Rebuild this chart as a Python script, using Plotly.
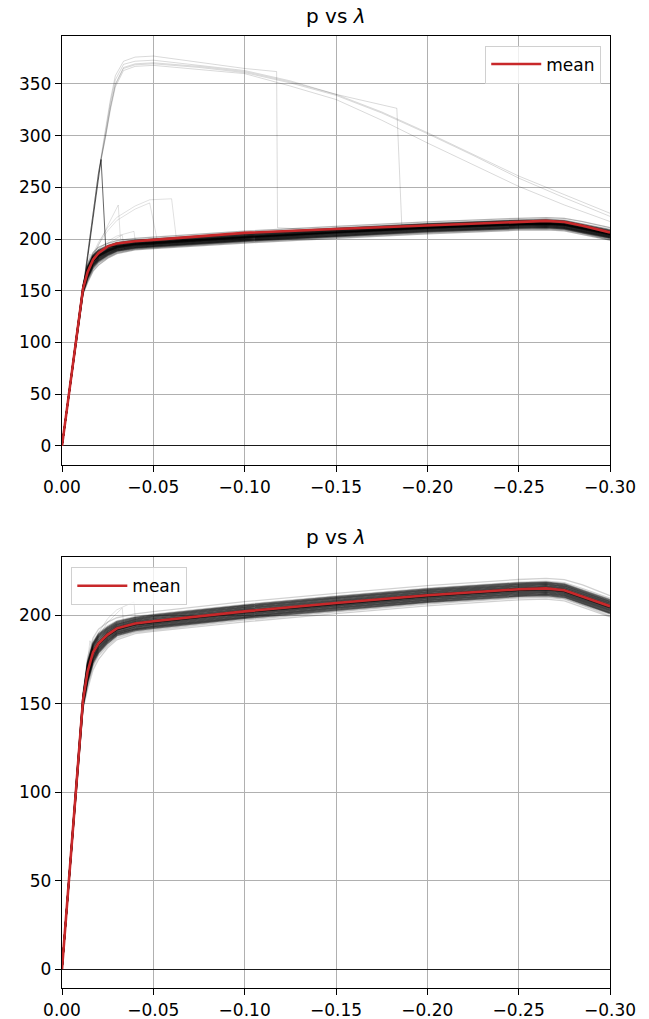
import plotly.graph_objects as go

# ---------------- data ----------------
LAM = [0, -0.004, -0.008, -0.0115, -0.014, -0.017, -0.02, -0.025, -0.03, -0.04,
       -0.05, -0.075, -0.1, -0.15, -0.2, -0.25, -0.265, -0.275, -0.285, -0.3]

MEAN_TOP = [0, 53, 106, 152, 168, 180, 186.5, 193, 195.8, 198, 199.3, 203, 206,
            209.8, 213.5, 217, 217.6, 216.6, 213, 206.5]
MEAN_BOT = [0, 53, 106, 152, 168, 179, 184, 189, 192.5, 195.2, 196.5, 199.4, 202.1,
            206.8, 211.2, 214.6, 215.1, 214.0, 210.5, 205.0]

C01 = [0, 53, 106, 147, 158, 169, 175, 181.5, 186, 189.5, 190.8, 193.6, 196.2, 200.8, 205.2, 208.6, 209.0, 208.0, 204.5, 199.0]
C02 = [0, 53, 106, 148, 161, 172, 178, 183.5, 187.8, 190.8, 192.1, 195.0, 197.7, 202.3, 206.7, 210.1, 210.6, 209.5, 206.0, 200.5]
C03 = [0, 53, 106, 149, 163, 174, 179.5, 185, 189, 191.8, 193.1, 196.0, 198.7, 203.3, 207.7, 211.1, 211.6, 210.5, 207.0, 201.5]
C04 = [0, 53, 106, 150, 164, 175.5, 181, 186.2, 190, 192.7, 194.0, 196.9, 199.6, 204.3, 208.7, 212.1, 212.6, 211.5, 208.0, 202.5]
C05 = [0, 53, 106, 150.5, 165, 176, 181.5, 186.8, 190.5, 193.2, 194.5, 197.4, 200.1, 204.8, 209.2, 212.6, 213.1, 212.0, 208.5, 203.0]
C06 = [0, 53, 106, 151, 166, 177, 182.3, 187.4, 191, 193.7, 195.0, 197.9, 200.6, 205.3, 209.7, 213.1, 213.6, 212.5, 209.0, 203.5]
C07 = [0, 53, 106, 151.5, 167, 178, 183, 188, 191.5, 194.2, 195.5, 198.4, 201.1, 205.8, 210.2, 213.6, 214.1, 213.0, 209.5, 204.0]
C08 = [0, 53, 106, 152, 167.5, 178.5, 183.5, 188.5, 192, 194.7, 196.0, 198.9, 201.6, 206.3, 210.7, 214.1, 214.6, 213.5, 210.0, 204.5]
C09 = [0, 53, 106, 152, 168, 179, 184, 189, 192.5, 195.2, 196.5, 199.4, 202.1, 206.8, 211.2, 214.6, 215.1, 214.0, 210.5, 205.0]
C10 = [0, 53, 106, 152, 168.5, 179.5, 184.5, 189.5, 193, 195.7, 197.0, 199.9, 202.6, 207.3, 211.7, 215.1, 215.6, 214.5, 211.0, 205.5]
C11 = [0, 53, 106, 152.5, 169, 180, 185, 190, 193.5, 196.2, 197.5, 200.4, 203.1, 207.8, 212.2, 215.6, 216.1, 215.0, 211.5, 206.0]
C12 = [0, 53, 106, 153, 170, 181, 186, 190.6, 194, 196.7, 198.0, 200.9, 203.6, 208.3, 212.7, 216.1, 216.6, 215.5, 212.0, 206.5]
C13 = [0, 53, 106, 153.5, 171, 182, 187, 191.2, 194.5, 197.2, 198.5, 201.4, 204.1, 208.8, 213.2, 216.6, 217.1, 216.0, 212.5, 207.0]
C14 = [0, 53, 106, 154, 172.5, 183.5, 188.5, 192.5, 195.6, 198.2, 199.5, 202.4, 205.1, 209.8, 214.2, 217.6, 218.1, 217.0, 213.5, 208.0]
C15 = [0, 53, 106, 155, 174, 185, 190, 194, 196.8, 199.2, 200.5, 203.4, 206.1, 210.8, 215.2, 218.6, 219.2, 218.3, 215.0, 209.5]
C16 = [0, 53, 106, 156, 176, 187, 192, 196, 198.5, 200.7, 202.0, 204.9, 207.6, 212.3, 216.7, 220.1, 220.7, 220.0, 217.0, 211.0]
C17 = [0, 53, 106, 147.5, 160, 171, 177, 182.5, 187, 190.3, 191.5, 194.4, 197.1, 201.8, 206.2, 209.6, 210.0, 209.0, 205.5, 199.5]
C18 = [0, 53, 106, 148.5, 162, 173, 178.7, 184.2, 188.4, 191.3, 192.6, 195.5, 198.2, 202.8, 207.2, 210.6, 211.1, 210.0, 206.5, 201.0]
C19 = [0, 53, 106, 149.5, 163.5, 174.8, 180.2, 185.6, 189.5, 192.2, 193.5, 196.4, 199.1, 203.8, 208.2, 211.6, 212.1, 211.0, 207.5, 202.0]
C20 = [0, 53, 106, 153.8, 171.8, 182.8, 187.8, 191.9, 195, 197.7, 199.0, 201.9, 204.6, 209.3, 213.7, 217.1, 217.6, 216.5, 213.0, 207.5]
C21 = [0, 53, 106, 154.5, 173.2, 184.2, 189.2, 193.2, 196.2, 198.7, 200.0, 202.9, 205.6, 210.3, 214.7, 218.1, 218.6, 217.6, 214.2, 208.7]
C22 = [0, 53, 106, 152, 168.3, 179.3, 184.3, 189.3, 192.8, 195.5, 196.8, 199.7, 202.4, 207.0, 211.5, 214.9, 215.4, 214.3, 210.8, 205.3]
C23 = [0, 53, 106, 151.8, 167.2, 178.2, 183.2, 188.2, 191.7, 194.5, 195.8, 198.7, 201.4, 206.0, 210.5, 213.9, 214.4, 213.3, 209.8, 204.3]

# outlier samples (own lambda grids)
H1_X = [0, -0.02, -0.0237, -0.0265, -0.0292, -0.0337, -0.04, -0.05, -0.075, -0.1, -0.1175, -0.118, -0.15, -0.2, -0.25, -0.265, -0.275, -0.285, -0.3]
H1_Y = [0, 264, 305, 335, 358, 372, 376, 377, 371, 365, 362, 211, 208, 212.5, 216, 216.5, 215.5, 212, 206.5]
H2_X = [0, -0.02, -0.0237, -0.0265, -0.0292, -0.0337, -0.04, -0.05, -0.075, -0.1, -0.125, -0.15, -0.1833, -0.186, -0.2, -0.25, -0.265, -0.275, -0.285, -0.3]
H2_Y = [0, 264, 302, 332, 354, 369, 372, 373, 368, 363, 353, 340, 326.5, 213.7, 214.5, 217.5, 218, 217, 213.5, 208]
H_X = [0, -0.02, -0.0237, -0.0265, -0.0292, -0.0337, -0.04, -0.05, -0.075, -0.1, -0.125, -0.15, -0.175, -0.2, -0.225, -0.25, -0.275, -0.3]
H3_Y = [0, 264, 299, 328, 350, 366, 369.5, 370.5, 367, 362, 352, 340, 323, 303, 282, 261, 243, 225]
H4_Y = [0, 264, 298, 327, 349, 365, 368.5, 369.5, 366, 361, 351, 339, 322, 302, 281, 259, 240, 222]
H5_Y = [0, 264, 297, 325, 347, 363, 367, 368, 364, 360, 348, 335, 315, 293, 272, 251, 233, 217]

D_X = [0, -0.0214, -0.0239, -0.03, -0.04, -0.05, -0.075, -0.1, -0.15, -0.2, -0.25, -0.265, -0.275, -0.285, -0.3]
D_Y = [0, 277, 192.7, 193, 195, 196.5, 199.5, 202, 206.5, 211, 214.5, 215, 214, 210.5, 205]

M1_X = [0, -0.0115, -0.014, -0.017, -0.02, -0.025, -0.03, -0.04, -0.048, -0.06, -0.0627, -0.075, -0.1, -0.15, -0.2, -0.25, -0.265, -0.275, -0.285, -0.3]
M1_Y = [0, 152, 171, 186, 197, 211, 221, 232, 238, 239, 199, 200, 202.5, 207, 211.5, 215, 215.5, 214.5, 211, 205.5]
M2_X = [0, -0.0115, -0.014, -0.017, -0.02, -0.025, -0.0308, -0.032, -0.04, -0.05, -0.075, -0.1, -0.15, -0.2, -0.25, -0.265, -0.275, -0.285, -0.3]
M2_Y = [0, 152, 170, 183, 194, 213, 233, 200, 197, 198, 201, 203.5, 208, 212, 215.5, 216, 215, 211.5, 206]
M5_X = [0, -0.0115, -0.014, -0.017, -0.02, -0.025, -0.03, -0.04, -0.048, -0.052, -0.075, -0.1, -0.15, -0.2, -0.25, -0.265, -0.275, -0.285, -0.3]
M5_Y = [0, 152, 170, 184, 195, 208, 218, 229, 235, 200, 199, 201.5, 206, 210.5, 214, 214.5, 213.5, 210, 204.5]
M3_X = [0, -0.0115, -0.014, -0.017, -0.02, -0.025, -0.03, -0.035, -0.0394, -0.0405, -0.05, -0.075, -0.1, -0.15, -0.2, -0.25, -0.265, -0.275, -0.285, -0.3]
M3_Y = [0, 152, 172, 183, 190, 198, 203, 205.5, 207.5, 193, 195, 198.5, 201.5, 206, 210.5, 214, 214.5, 213.5, 210, 204.5]
M4_X = [0, -0.0115, -0.014, -0.017, -0.02, -0.025, -0.03, -0.033, -0.034, -0.04, -0.05, -0.075, -0.1, -0.15, -0.2, -0.25, -0.265, -0.275, -0.285, -0.3]
M4_Y = [0, 152, 171, 182, 188, 196, 201, 204, 191, 193.5, 195.5, 198.5, 201, 205.5, 210, 213.5, 214, 213, 209.5, 204]
S_X = [0, -0.0115, -0.0153, -0.018, -0.02, -0.025, -0.03, -0.04, -0.05, -0.075, -0.1, -0.15, -0.2, -0.25, -0.265, -0.275, -0.285, -0.3]
S_Y = [0, 152, 185.5, 178, 182, 188, 191.5, 194.5, 196, 199, 201.8, 206.5, 211, 214.5, 215, 214, 210.5, 205]

X_TICKS = [0, -0.05, -0.1, -0.15, -0.2, -0.25, -0.3]
X_TICK_TEXT = ["0.00", "\u22120.05", "\u22120.10", "\u22120.15", "\u22120.20", "\u22120.25", "\u22120.30"]
TITLE = "p vs <i>\u03bb</i>"

# ---------------- figure ----------------
CORE = [C03, C04, C05, C06, C07, C08, C09, C10, C11, C12, C13, C14,
        C18, C19, C20, C21, C22, C23]
EDGE = [C01, C02, C15, C16, C17]
FONT = "DejaVu Sans"
RED = "#c8282a"

fig = go.Figure()


def line(x, y, xa, ya, alpha, width=1.0):
    fig.add_trace(go.Scatter(x=x, y=y, mode="lines", xaxis=xa, yaxis=ya,
                             line=dict(color=f"rgba(0,0,0,{alpha})", width=width),
                             showlegend=False, hoverinfo="skip"))


# top panel: all samples
for c in EDGE:
    line(LAM, c, "x", "y", 0.3, 1.3)
for c in CORE:
    line(LAM, c, "x", "y", 0.55, 1.4)
for hy, hx in [(H1_Y, H1_X), (H2_Y, H2_X), (H3_Y, H_X), (H4_Y, H_X), (H5_Y, H_X)]:
    line(hx, hy, "x", "y", 0.15)
line(D_X, D_Y, "x", "y", 0.6)
for mx, my in [(M1_X, M1_Y), (M2_X, M2_Y), (M5_X, M5_Y), (M3_X, M3_Y), (M4_X, M4_Y), (S_X, S_Y)]:
    line(mx, my, "x", "y", 0.12)
fig.add_trace(go.Scatter(x=LAM, y=MEAN_TOP, mode="lines", xaxis="x", yaxis="y",
                         line=dict(color=RED, width=2.6), name="mean", legend="legend"))

# bottom panel: filtered samples
for c in EDGE:
    line(LAM, c, "x2", "y2", 0.18, 1.3)
for c in CORE:
    line(LAM, c, "x2", "y2", 0.55, 1.5)
for mx, my in [(M3_X, M3_Y), (M4_X, M4_Y), (S_X, S_Y)]:
    line(mx, my, "x2", "y2", 0.12)
fig.add_trace(go.Scatter(x=LAM, y=MEAN_BOT, mode="lines", xaxis="x2", yaxis="y2",
                         line=dict(color=RED, width=2.6), name="mean", legend="legend2"))

axis_common = dict(showline=True, mirror=True, linecolor="black", linewidth=1.3,
                   ticks="outside", ticklen=6, tickwidth=1.3, tickcolor="black",
                   showgrid=True, gridcolor="#b0b0b0", gridwidth=1.1, automargin=False,
                   tickfont=dict(family=FONT, size=17, color="black"))

TOP_DOM = [0.5494, 1.0]
BOT_DOM = [0.0, 0.4527]

fig.update_layout(
    width=649, height=1019,
    margin=dict(l=62, r=39, t=36, b=31),
    paper_bgcolor="white", plot_bgcolor="white",
    font=dict(family=FONT, size=17, color="black"),
    xaxis=dict(domain=[0, 1], anchor="y", range=[0, -0.3], tickvals=X_TICKS,
               ticktext=X_TICK_TEXT, zeroline=False, **axis_common),
    yaxis=dict(domain=TOP_DOM, anchor="x", range=[-18.4, 396.4], dtick=50,
               zeroline=True, zerolinecolor="#1a1a1a", zerolinewidth=1.3, **axis_common),
    xaxis2=dict(domain=[0, 1], anchor="y2", range=[0, -0.3], tickvals=X_TICKS,
                ticktext=X_TICK_TEXT, zeroline=False, **axis_common),
    yaxis2=dict(domain=BOT_DOM, anchor="x2", range=[-10.7, 232.8], dtick=50,
                zeroline=True, zerolinecolor="#1a1a1a", zerolinewidth=1.3, **axis_common),
    legend=dict(x=0.984, y=0.99, xanchor="right", yanchor="top", itemwidth=50,
                bgcolor="rgba(255,255,255,0.8)", bordercolor="#d0d0d0", borderwidth=1,
                font=dict(family=FONT, size=17, color="black")),
    legend2=dict(x=0.017, y=0.442, xanchor="left", yanchor="top", itemwidth=50,
                 bgcolor="rgba(255,255,255,0.8)", bordercolor="#d0d0d0", borderwidth=1,
                 font=dict(family=FONT, size=17, color="black")),
    annotations=[
        dict(text=TITLE, x=0.5, y=TOP_DOM[1], xref="paper", yref="paper",
             xanchor="center", yanchor="bottom", yshift=6, showarrow=False,
             font=dict(family=FONT, size=20, color="black")),
        dict(text=TITLE, x=0.5, y=BOT_DOM[1], xref="paper", yref="paper",
             xanchor="center", yanchor="bottom", yshift=6, showarrow=False,
             font=dict(family=FONT, size=20, color="black")),
    ],
)

fig.write_html("out.html", config={"displayModeBar": False},
               post_script="document.body.style.margin='0px';")
